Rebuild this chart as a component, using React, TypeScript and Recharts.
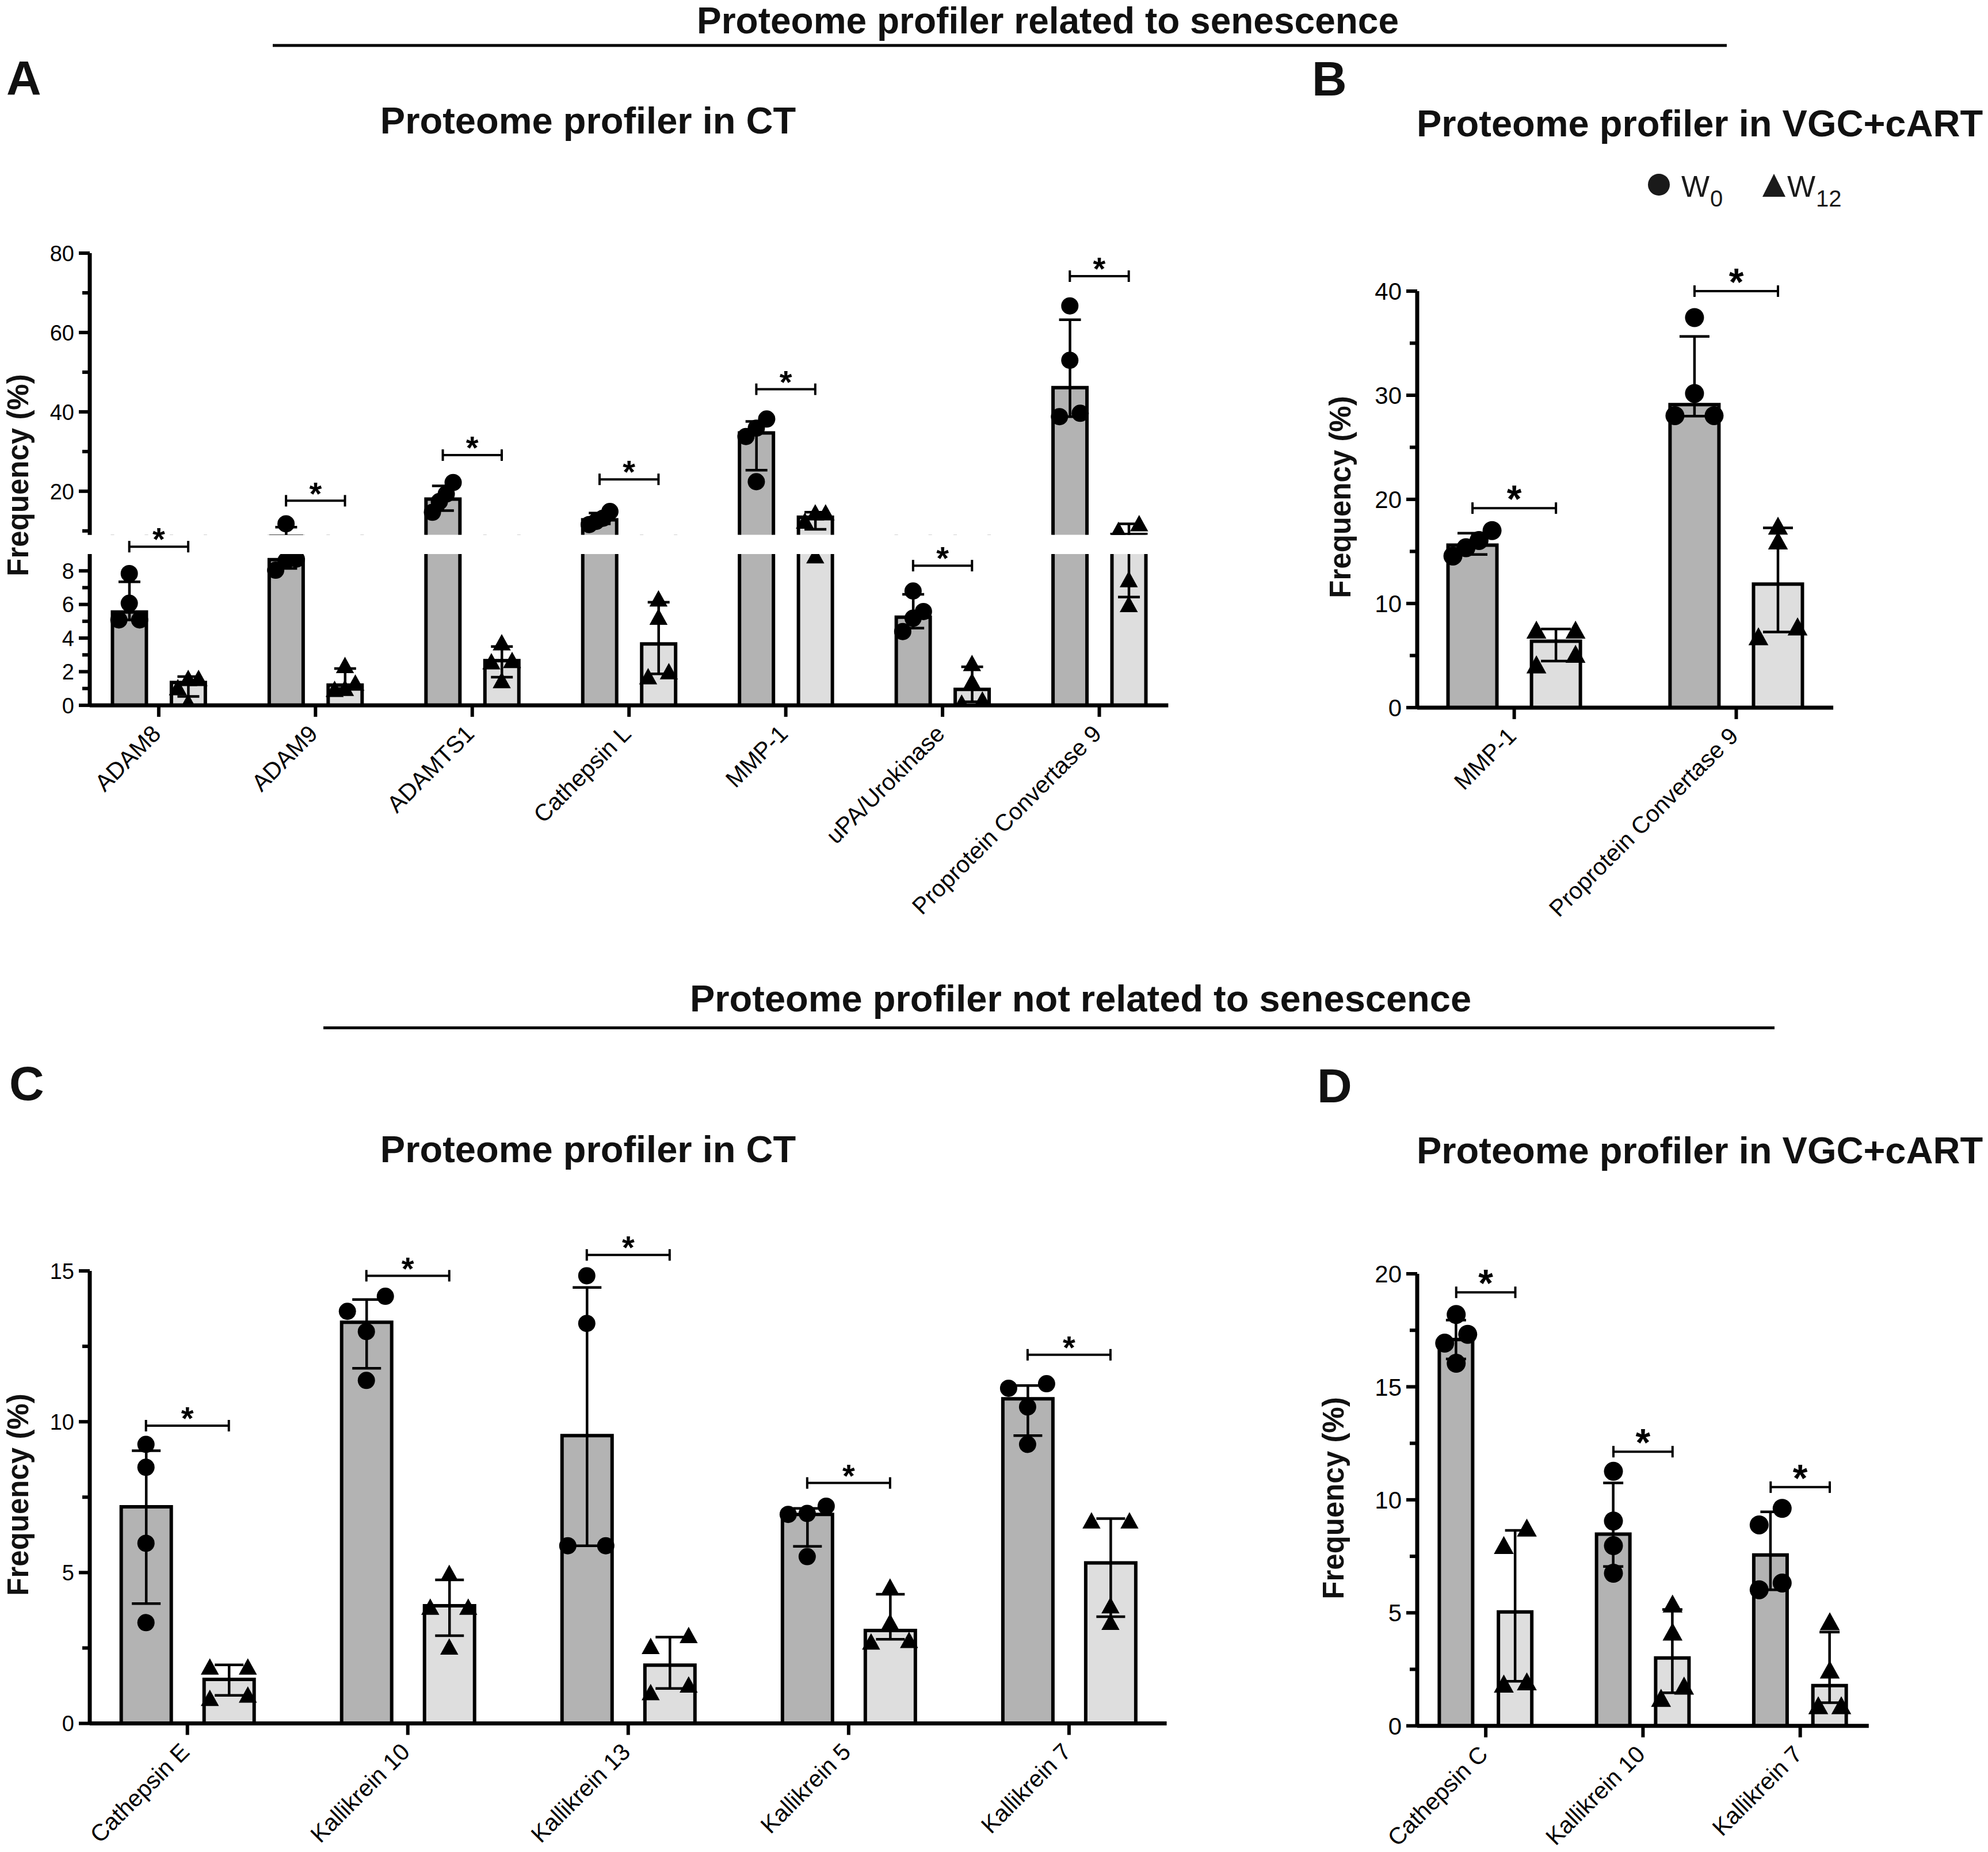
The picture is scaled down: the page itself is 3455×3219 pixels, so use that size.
import React from "react";
import {
  ComposedChart,
  Bar,
  ErrorBar,
  Scatter,
  XAxis,
  YAxis,
  ReferenceDot,
} from "recharts";

const FONT = '"Liberation Sans", Arial, Helvetica, sans-serif';
const W0_FILL = "#b3b3b3";
const W12_FILL = "#dedede";

// ---------- Panel A : Proteome profiler in CT (related to senescence) ----------
const aCategories = [
  "ADAM8",
  "ADAM9",
  "ADAMTS1",
  "Cathepsin L",
  "MMP-1",
  "uPA/Urokinase",
  "Proprotein Convertase 9",
];
const aW0Points = [
  [7.84, 6.07, 5.08, 5.08],
  [11.8, 8.7, 8.6, 8.04],
  [22.2, 19.3, 17.4, 14.7],
  [14.9, 13.2, 12.4, 11.6],
  [38.2, 35.9, 33.8, 22.4],
  [6.8, 5.58, 5.18, 4.39],
  [66.7, 53.0, 39.65, 38.8],
];
const aW0Median = [5.55, 8.67, 18.0, 12.8, 34.7, 5.24, 46.1];
const aW0Low = [5.08, 8.14, 15.1, 11.8, 25.3, 4.59, 38.8];
const aW0High = [7.35, 10.95, 21.35, 14.5, 37.6, 6.6, 63.2];
const aW12Points = [
  [1.63, 1.63, 1.08, 0.2],
  [2.4, 1.36, 1.04, 0.98],
  [3.75, 2.7, 2.62, 1.5],
  [6.36, 5.28, 2.03, 1.73],
  [14.7, 14.7, 12.6, 8.93],
  [2.52, 1.44, 0.35, 0.16],
  [11.97, 10.26, 7.51, 6.03],
];
const aW12Median = [1.36, 1.2, 2.66, 3.65, 13.45, 0.95, 9.1];
const aW12Low = [0.53, 1.0, 1.67, 1.87, 10.4, 0.21, 6.44];
const aW12High = [1.71, 2.19, 3.5, 6.13, 14.7, 2.29, 11.8];
const aBrackets = [9.44, 17.6, 29.1, 23.0, 45.7, 8.31, 74.2];
const aUpperTicks = [10, 20, 30, 40, 50, 60, 70, 80];
const aUpperLabels = [20, 40, 60, 80];
const aLowerTicks = [0, 1, 2, 3, 4, 5, 6, 7, 8];
const aLowerLabels = [0, 2, 4, 6, 8];

// ---------- Panel B : Proteome profiler in VGC+cART (related) ----------
const bCategories = ["MMP-1", "Proprotein Convertase 9"];
const bW0Points = [
  [17.0, 16.05, 15.35, 14.56],
  [37.46, 30.17, 28.04, 28.04],
];
const bW0Median = [15.6, 29.1];
const bW0Low = [14.7, 28.0];
const bW0High = [16.75, 35.65];
const bW12Points = [
  [7.49, 7.49, 5.17, 4.15],
  [17.48, 16.05, 7.8, 6.85],
];
const bW12Median = [6.37, 11.86];
const bW12Low = [4.47, 7.26];
const bW12High = [7.55, 17.26];
const bBrackets = [19.16, 40.0];
const bTicks = [0, 5, 10, 15, 20, 25, 30, 35, 40];
const bLabels = [0, 10, 20, 30, 40];

// ---------- Panel C : Proteome profiler in CT (not related) ----------
const cCategories = [
  "Cathepsin E",
  "Kallikrein 10",
  "Kallikrein 13",
  "Kallikrein 5",
  "Kallikrein 7",
];
const cW0Points = [
  [9.25, 8.49, 5.97, 3.34],
  [14.16, 13.66, 12.99, 11.37],
  [14.84, 13.26, 5.89, 5.89],
  [7.2, 6.96, 6.93, 5.53],
  [11.26, 11.11, 10.49, 9.25],
];
const cW0Median = [7.18, 13.3, 9.54, 6.93, 10.76];
const cW0Low = [3.97, 11.77, 5.89, 5.87, 9.54];
const cW0High = [9.04, 14.05, 14.45, 7.13, 11.2];
const cW12Points = [
  [1.89, 1.89, 0.96, 0.85],
  [4.99, 3.87, 3.87, 2.55],
  [2.93, 2.57, 1.29, 1.04],
  [4.54, 3.37, 2.77, 2.72],
  [6.73, 6.73, 3.92, 3.37],
];
const cW12Median = [1.46, 3.9, 1.93, 3.08, 5.32];
const cW12Low = [0.93, 2.91, 1.16, 2.79, 3.54];
const cW12High = [1.94, 4.76, 2.86, 4.28, 6.79];
const cBrackets = [9.87, 14.84, 15.53, 7.97, 12.22];
const cTicks = [0, 2.5, 5, 7.5, 10, 12.5, 15];
const cLabels = [0, 5, 10, 15];

// ---------- Panel D : Proteome profiler in VGC+cART (not related) ----------
const dCategories = ["Cathepsin C", "Kallikrein 10", "Kallikrein 7"];
const dW0Points = [
  [18.2, 17.32, 16.93, 16.04],
  [11.26, 9.06, 7.97, 6.75],
  [9.62, 8.89, 6.32, 6.02],
];
const dW0Median = [17.09, 8.48, 7.56];
const dW0Low = [16.23, 7.05, 6.02];
const dW0High = [17.95, 10.75, 9.47];
const dW12Points = [
  [8.77, 8.0, 1.97, 1.87],
  [5.41, 4.17, 1.78, 1.24],
  [4.63, 2.49, 0.91, 0.91],
];
const dW12Median = [5.04, 3.0, 1.78];
const dW12Low = [1.97, 1.46, 1.02];
const dW12High = [8.65, 5.15, 4.15];
const dBrackets = [19.18, 12.13, 10.56];
const dTicks = [0, 2.5, 5, 7.5, 10, 12.5, 15, 17.5, 20];
const dLabels = [0, 5, 10, 15, 20];

// ---------- layout ----------
type Geo = { x: number; y: number; w: number; h: number };
type Spread = { slot: number; thrCircle: number; thrTri: number };

const GROUP_OFF = 0.188;
const YW = 150;
const MT = 130;
const MR = 60;

const geoAUp: Geo = { x: 155.6, y: 440.3, w: 1874.4, h: 489.7 };
const geoALow: Geo = { x: 155.6, y: 962.7, w: 1874.4, h: 262.9 };
const geoB: Geo = { x: 2462.9, y: 506.3, w: 723.1, h: 723.9 };
const geoC: Geo = { x: 155.6, y: 2209.1, w: 1871.6, h: 786.5 };
const geoD: Geo = { x: 2462.9, y: 2214.3, w: 784.8, h: 785.7 };

const xDomA: [number, number] = [-0.44, 6.44];
const xDomB: [number, number] = [-0.437, 1.437];
const xDomC: [number, number] = [-0.443, 4.443];
const xDomD: [number, number] = [-0.436, 2.436];

const linearPx = (g: Geo, dom: [number, number]) => (v: number) =>
  g.y + g.h - ((v - dom[0]) * g.h) / (dom[1] - dom[0]);

const pxPerX = (g: Geo, dom: [number, number]) => g.w / (dom[1] - dom[0]);

function buildBars(
  n: number,
  m0: number[],
  lo0: number[],
  hi0: number[],
  m12: number[],
  lo12: number[],
  hi12: number[]
) {
  const rows: any[] = [];
  for (let i = 0; i < n; i++) {
    rows.push({ x: i - GROUP_OFF, v: m0[i], lo: lo0[i], hi: hi0[i], group: "W0" });
    rows.push({ x: i + GROUP_OFF, v: m12[i], lo: lo12[i], hi: hi12[i], group: "W12" });
  }
  return rows;
}

const PATTERN: Record<number, number[]> = {
  1: [0],
  2: [-1, 1],
  3: [-1, 0, 1],
  4: [-1, -1 / 3, 1 / 3, 1],
};

// Prism-like horizontal spreading of replicate points that would overlap
function spreadGroup(
  values: number[],
  center: number,
  group: string,
  toPx: (v: number) => number,
  thr: number,
  slotUnits: number
) {
  const sorted = [...values].sort((a, b) => a - b);
  const clusters: number[][] = [];
  sorted.forEach((v) => {
    const last = clusters[clusters.length - 1];
    if (last && Math.abs(toPx(v) - toPx(last[last.length - 1])) < thr) last.push(v);
    else clusters.push([v]);
  });
  return clusters.flatMap((c) =>
    c.map((v, j) => ({ x: center + PATTERN[c.length][j] * slotUnits, y: v, group }))
  );
}

function buildPoints(
  w0: number[][],
  w12: number[][],
  toPx: (v: number) => number,
  sp: Spread,
  unitPx: number
) {
  const slotUnits = sp.slot / unitPx;
  const pts: any[] = [];
  w0.forEach((vals, i) => pts.push(...spreadGroup(vals, i - GROUP_OFF, "W0", toPx, sp.thrCircle, slotUnits)));
  w12.forEach((vals, i) => pts.push(...spreadGroup(vals, i + GROUP_OFF, "W12", toPx, sp.thrTri, slotUnits)));
  return pts;
}

// ---------- renderers ----------
const BarShape = (props: any) => {
  const { x, y, width, height, payload } = props;
  if (x == null || y == null || !width) return <g />;
  const fill = payload.group === "W0" ? W0_FILL : W12_FILL;
  return (
    <g>
      <rect x={x} y={y} width={width} height={height} fill={fill} />
      <path
        d={`M${x},${y + height} L${x},${y} L${x + width},${y} L${x + width},${y + height}`}
        fill="none"
        stroke="#000"
        strokeWidth={6}
      />
    </g>
  );
};

const symbolShape = (r: number) => (props: any) => {
  const { cx, cy, payload } = props;
  if (payload.group === "W0") return <circle cx={cx} cy={cy} r={r} fill="#000" />;
  const w = r * 2.1;
  const h = r * 1.9;
  return (
    <path
      d={`M${cx},${cy - h / 2} L${cx + w / 2},${cy + h / 2} L${cx - w / 2},${cy + h / 2} Z`}
      fill="#000"
    />
  );
};

const bracketShape = (half: number, starFont: number) => (props: any) => {
  const { cx, cy } = props;
  return (
    <g>
      <line x1={cx - half} y1={cy} x2={cx + half} y2={cy} stroke="#000" strokeWidth={4} />
      <line x1={cx - half} y1={cy - 10} x2={cx - half} y2={cy + 10} stroke="#000" strokeWidth={4} />
      <line x1={cx + half} y1={cy - 10} x2={cx + half} y2={cy + 10} stroke="#000" strokeWidth={4} />
      <text
        x={cx}
        y={cy + starFont * 0.11}
        textAnchor="middle"
        fontSize={starFont}
        fontWeight="bold"
        fontFamily={FONT}
        fill="#000"
      >
        *
      </text>
    </g>
  );
};

const yTick = (labels: number[], font: number) => (p: any) => {
  const { x, y, payload } = p;
  const major = labels.includes(payload.value);
  const len = major ? 19 : 13;
  return (
    <g>
      <line x1={x - len} y1={y} x2={x} y2={y} stroke="#000" strokeWidth={6} />
      {major && (
        <text
          x={x - 27}
          y={y}
          dy="0.36em"
          textAnchor="end"
          fontSize={font}
          fontFamily={FONT}
          fill="#000"
        >
          {payload.value}
        </text>
      )}
    </g>
  );
};

const xTick = (cats: string[], font: number) => (p: any) => {
  const { x, y, payload } = p;
  const label = cats[Math.round(payload.value)];
  const ax = x + 6;
  const ay = y + 52;
  return (
    <g>
      <line x1={x} y1={y} x2={x} y2={y + 20} stroke="#000" strokeWidth={6} />
      <text
        x={ax}
        y={ay}
        transform={`rotate(-45 ${ax} ${ay})`}
        textAnchor="end"
        fontSize={font}
        fontFamily={FONT}
        fill="#000"
      >
        {label}
      </text>
    </g>
  );
};

type PanelProps = {
  id: string;
  geo: Geo;
  xDomain: [number, number];
  yDomain: [number, number];
  yTicks: number[];
  yLabels: number[];
  categories: string[] | null;
  bars: any[];
  points: any[];
  brackets: { i: number; v: number }[];
  barSize: number;
  capHalf: number;
  r: number;
  tickFont: number;
  starFont: number;
  clip: boolean;
};

function PanelChart(p: PanelProps) {
  const XH = p.categories ? 480 : 0;
  const MB = p.categories ? 0 : 20;
  const W = YW + p.geo.w + MR;
  const H = MT + p.geo.h + (p.categories ? XH : MB);
  const half = GROUP_OFF * pxPerX(p.geo, p.xDomain);
  const n = p.categories ? p.categories.length : Math.round(p.xDomain[1]);
  const xTicks = Array.from({ length: n }, (_, i) => i);
  const [d0, d1] = p.yDomain;
  // error ranges that lie wholly outside this axis segment are not drawn here
  const rows = p.bars.map((b) => ({
    ...b,
    err: p.clip && (b.hi < d0 || b.lo > d1) ? null : [b.v - b.lo, b.hi - b.v],
  }));
  const clipId = `errclip-${p.id}`;
  return (
    <div style={{ position: "absolute", left: p.geo.x - YW, top: p.geo.y - MT, width: W, height: H }}>
      <svg width={0} height={0} style={{ position: "absolute" }}>
        <defs>
          <clipPath id={clipId} clipPathUnits="userSpaceOnUse">
            <rect x={YW} y={MT} width={p.geo.w} height={p.geo.h} />
          </clipPath>
        </defs>
      </svg>
      <ComposedChart
        width={W}
        height={H}
        data={rows}
        margin={{ top: MT, right: MR, bottom: MB, left: 0 }}
      >
        <XAxis
          type="number"
          dataKey="x"
          domain={p.xDomain}
          ticks={xTicks}
          interval={0}
          allowDataOverflow={p.clip}
          hide={!p.categories}
          height={XH}
          tickSize={0}
          tickMargin={0}
          tickLine={false}
          axisLine={{ stroke: "#000", strokeWidth: 7 }}
          tick={p.categories ? xTick(p.categories, 41) : false}
        />
        <XAxis
          xAxisId="pts"
          type="number"
          dataKey="x"
          domain={p.xDomain}
          allowDataOverflow={p.clip}
          hide
        />
        <YAxis
          type="number"
          domain={p.yDomain}
          ticks={p.yTicks}
          interval={0}
          allowDataOverflow={p.clip}
          width={YW}
          tickSize={0}
          tickMargin={0}
          tickLine={false}
          axisLine={{ stroke: "#000", strokeWidth: 7 }}
          tick={yTick(p.yLabels, p.tickFont)}
        />
        <Bar dataKey="v" barSize={p.barSize} shape={BarShape} isAnimationActive={false}>
          <ErrorBar
            dataKey="err"
            direction="y"
            width={p.capHalf}
            stroke="#000"
            strokeWidth={4.5}
            clipPath={p.clip ? `url(#${clipId})` : undefined}
            isAnimationActive={false}
          />
        </Bar>
        <Scatter
          xAxisId="pts"
          data={p.points}
          dataKey="y"
          shape={symbolShape(p.r)}
          isAnimationActive={false}
        />
        {p.brackets.map((b) => (
          <ReferenceDot
            key={`br-${b.i}`}
            x={b.i}
            y={b.v}
            ifOverflow="visible"
            shape={bracketShape(half, p.starFont)}
          />
        ))}
      </ComposedChart>
    </div>
  );
}

// ---------- data assembly ----------
const aBars = buildBars(7, aW0Median, aW0Low, aW0High, aW12Median, aW12Low, aW12High);
const aUpPx = linearPx(geoAUp, [9, 80]);
const aLowPx = linearPx(geoALow, [0, 9]);
const aPx = (v: number) => (v >= 9 ? aUpPx(v) : aLowPx(v));
const aPoints = buildPoints(aW0Points, aW12Points, aPx, { slot: 18, thrCircle: 28, thrTri: 25 }, pxPerX(geoAUp, xDomA));
const aUpperPoints = aPoints.filter((d) => d.y >= 9);
const aLowerPoints = aPoints.filter((d) => d.y < 9);
const aUpperBrackets = aBrackets.map((v, i) => ({ i, v })).filter((b) => b.v >= 10);
const aLowerBrackets = aBrackets.map((v, i) => ({ i, v })).filter((b) => b.v < 10);

const bBars = buildBars(2, bW0Median, bW0Low, bW0High, bW12Median, bW12Low, bW12High);
const bPoints = buildPoints(bW0Points, bW12Points, linearPx(geoB, [0, 40]), { slot: 34, thrCircle: 32, thrTri: 25 }, pxPerX(geoB, xDomB));

const cBars = buildBars(5, cW0Median, cW0Low, cW0High, cW12Median, cW12Low, cW12High);
const cPoints = buildPoints(cW0Points, cW12Points, linearPx(geoC, [0, 15]), { slot: 33, thrCircle: 30, thrTri: 27 }, pxPerX(geoC, xDomC));

const dBars = buildBars(3, dW0Median, dW0Low, dW0High, dW12Median, dW12Low, dW12High);
const dPoints = buildPoints(dW0Points, dW12Points, linearPx(geoD, [0, 20]), { slot: 20, thrCircle: 34, thrTri: 31 }, pxPerX(geoD, xDomD));

const TITLE = 65;
const LETTER = 84;
const YTITLE = 51;

export default function App() {
  return (
    <div
      style={{
        position: "absolute",
        left: 0,
        top: 0,
        width: 3455,
        height: 3219,
        background: "#fff",
        overflow: "hidden",
        fontFamily: FONT,
      }}
    >
      <PanelChart
        id="a-up"
        geo={geoAUp}
        xDomain={xDomA}
        yDomain={[9, 80]}
        yTicks={aUpperTicks}
        yLabels={aUpperLabels}
        categories={null}
        bars={aBars}
        points={aUpperPoints}
        brackets={aUpperBrackets}
        barSize={59}
        capHalf={19}
        r={15}
        tickFont={38}
        starFont={56}
        clip
      />
      <PanelChart
        id="a-low"
        geo={geoALow}
        xDomain={xDomA}
        yDomain={[0, 9]}
        yTicks={aLowerTicks}
        yLabels={aLowerLabels}
        categories={aCategories}
        bars={aBars}
        points={aLowerPoints}
        brackets={aLowerBrackets}
        barSize={59}
        capHalf={19}
        r={15}
        tickFont={38}
        starFont={56}
        clip
      />
      <PanelChart
        id="b"
        geo={geoB}
        xDomain={xDomB}
        yDomain={[0, 40]}
        yTicks={bTicks}
        yLabels={bLabels}
        categories={bCategories}
        bars={bBars}
        points={bPoints}
        brackets={bBrackets.map((v, i) => ({ i, v }))}
        barSize={85}
        capHalf={26}
        r={16.5}
        tickFont={42}
        starFont={66}
        clip={false}
      />
      <PanelChart
        id="c"
        geo={geoC}
        xDomain={xDomC}
        yDomain={[0, 15]}
        yTicks={cTicks}
        yLabels={cLabels}
        categories={cCategories}
        bars={cBars}
        points={cPoints}
        brackets={cBrackets.map((v, i) => ({ i, v }))}
        barSize={87}
        capHalf={25}
        r={15}
        tickFont={38}
        starFont={56}
        clip={false}
      />
      <PanelChart
        id="d"
        geo={geoD}
        xDomain={xDomD}
        yDomain={[0, 20]}
        yTicks={dTicks}
        yLabels={dLabels}
        categories={dCategories}
        bars={dBars}
        points={dPoints}
        brackets={dBrackets.map((v, i) => ({ i, v }))}
        barSize={58}
        capHalf={17.5}
        r={16.5}
        tickFont={42}
        starFont={66}
        clip={false}
      />

      <svg
        width={3455}
        height={3219}
        style={{ position: "absolute", left: 0, top: 0, pointerEvents: "none" }}
        fontFamily={FONT}
      >
        {/* section headers */}
        <text x={1821} y={58} textAnchor="middle" fontSize={64} fontWeight="bold" fill="#111">
          Proteome profiler related to senescence
        </text>
        <line x1={474} y1={79} x2={3001} y2={79} stroke="#000" strokeWidth={5} />
        <text x={1878} y={1758} textAnchor="middle" fontSize={TITLE} fontWeight="bold" fill="#111">
          Proteome profiler not related to senescence
        </text>
        <line x1={562} y1={1786.5} x2={3084} y2={1786.5} stroke="#000" strokeWidth={5} />

        {/* panel letters */}
        <text x={11} y={165} fontSize={LETTER} fontWeight="bold" fill="#111">A</text>
        <text x={2280} y={166} fontSize={LETTER} fontWeight="bold" fill="#111">B</text>
        <text x={16} y={1912} fontSize={LETTER} fontWeight="bold" fill="#111">C</text>
        <text x={2289} y={1916} fontSize={LETTER} fontWeight="bold" fill="#111">D</text>

        {/* panel titles */}
        <text x={1022} y={232} textAnchor="middle" fontSize={TITLE} fontWeight="bold" fill="#111">
          Proteome profiler in CT
        </text>
        <text x={2954} y={237} textAnchor="middle" fontSize={TITLE} fontWeight="bold" fill="#111">
          Proteome profiler in VGC+cART
        </text>
        <text x={1022} y={2020} textAnchor="middle" fontSize={TITLE} fontWeight="bold" fill="#111">
          Proteome profiler in CT
        </text>
        <text x={2954} y={2022} textAnchor="middle" fontSize={TITLE} fontWeight="bold" fill="#111">
          Proteome profiler in VGC+cART
        </text>

        {/* legend */}
        <circle cx={2883} cy={321} r={19} fill="#1a1a1a" />
        <text x={2922} y={342} fontSize={52} fill="#1a1a1a">W</text>
        <text x={2972} y={359} fontSize={40} fill="#1a1a1a">0</text>
        <path d="M3083,302 L3103,342 L3063,342 Z" fill="#1a1a1a" />
        <text x={3106} y={342} fontSize={52} fill="#1a1a1a">W</text>
        <text x={3156} y={359} fontSize={40} fill="#1a1a1a">12</text>

        {/* y-axis titles */}
        <text x={49} y={826} transform="rotate(-90 49 826)" textAnchor="middle" fontSize={YTITLE} fontWeight="bold" fill="#111">
          Frequency (%)
        </text>
        <text x={2347} y={864} transform="rotate(-90 2347 864)" textAnchor="middle" fontSize={YTITLE} fontWeight="bold" fill="#111">
          Frequency (%)
        </text>
        <text x={49} y={2598} transform="rotate(-90 49 2598)" textAnchor="middle" fontSize={YTITLE} fontWeight="bold" fill="#111">
          Frequency (%)
        </text>
        <text x={2335} y={2604} transform="rotate(-90 2335 2604)" textAnchor="middle" fontSize={YTITLE} fontWeight="bold" fill="#111">
          Frequency (%)
        </text>
      </svg>
    </div>
  );
}
